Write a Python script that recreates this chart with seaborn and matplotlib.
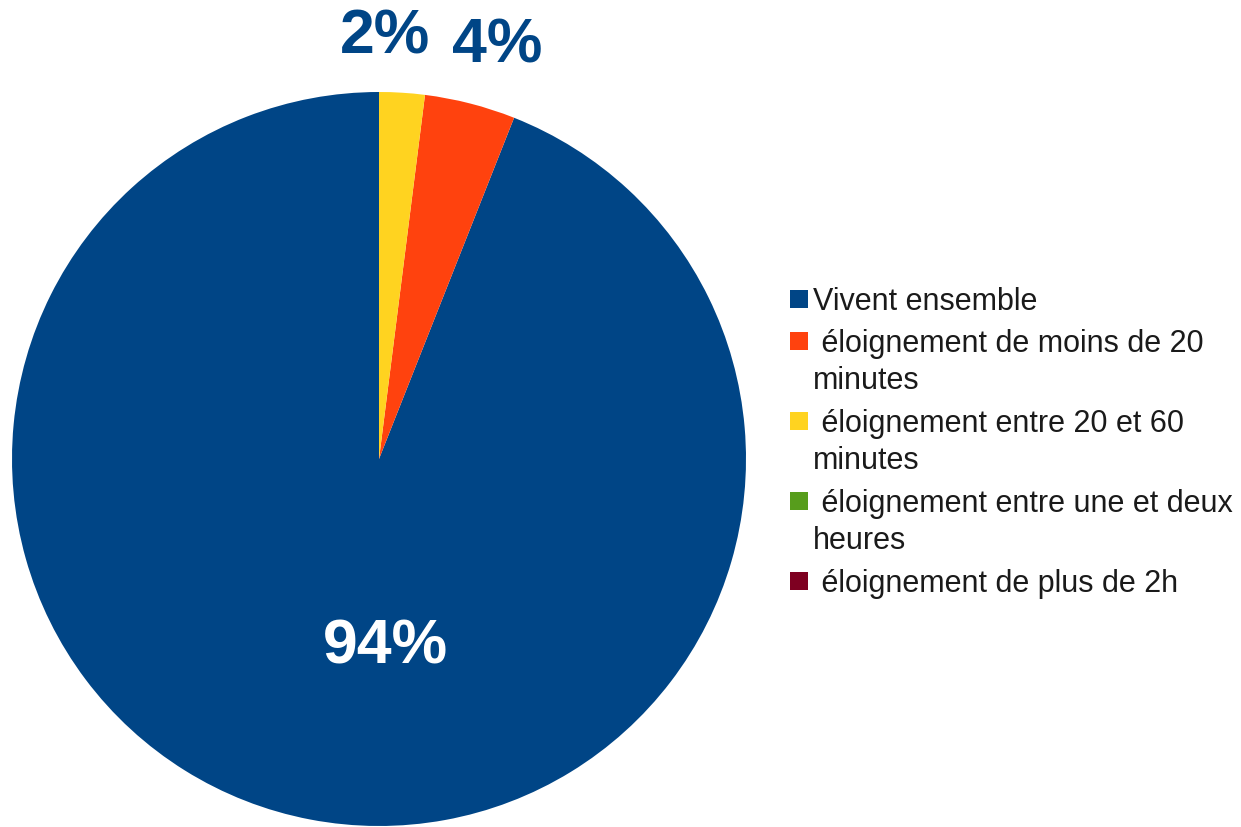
import matplotlib
matplotlib.use("Agg")
import matplotlib.pyplot as plt
import seaborn as sns
from matplotlib.patches import Rectangle

sns.set_theme(style="white")
plt.rcParams['font.family'] = ['Liberation Sans', 'DejaVu Sans']

categories = ["Vivent ensemble",
              " éloignement de moins de 20\nminutes",
              " éloignement entre 20 et 60\nminutes",
              " éloignement entre une et deux\nheures",
              " éloignement de plus de 2h"]
values = [94, 4, 2, 0, 0]
colors = ["#004586", "#ff420e", "#ffd320", "#579d1c", "#7e0021"]
pct_labels = ["94%", "4%", "2%"]

W, H = 1241, 827
fig = plt.figure(figsize=(W / 100, H / 100), dpi=100)
cx, cy, r = 379, 459, 367
ax = fig.add_axes([(cx - r) / W, (H - cy - r) / H, 2 * r / W, 2 * r / H])
ax.pie(values, colors=colors, startangle=90, counterclock=True,
       wedgeprops=dict(linewidth=0), radius=1)
ax.set_xlim(-1, 1)
ax.set_ylim(-1, 1)
ax.set_aspect('equal')
ax.axis('off')

def px(x, y):
    return ((x - cx) / r, (cy - y) / r)

# label positions (layout)
pos = {"94%": (385, 647), "4%": (497, 46), "2%": (385, 37)}
for lab in pct_labels:
    x, y = px(*pos[lab])
    ax.text(x, y, lab, ha='center', va='center', fontsize=45, fontweight='bold',
            color='white' if lab == "94%" else "#004586", clip_on=False)

# legend (manual layout in figure pixels)
y = 299
for cat, col in zip(categories, colors):
    fig.patches.append(Rectangle((790 / W, (H - y - 9) / H), 18 / W, 18 / H,
                                 transform=fig.transFigure, facecolor=col,
                                 edgecolor='none'))
    lines = cat.split("\n")
    for i, line in enumerate(lines):
        fig.text(813 / W, (H - (y + 11 + 37 * i)) / H, line, fontsize=22,
                 color='#1a1a1a', ha='left', va='baseline')
    y += 42 + 38 * (len(lines) - 1)

fig.savefig("out.png", dpi=100)
